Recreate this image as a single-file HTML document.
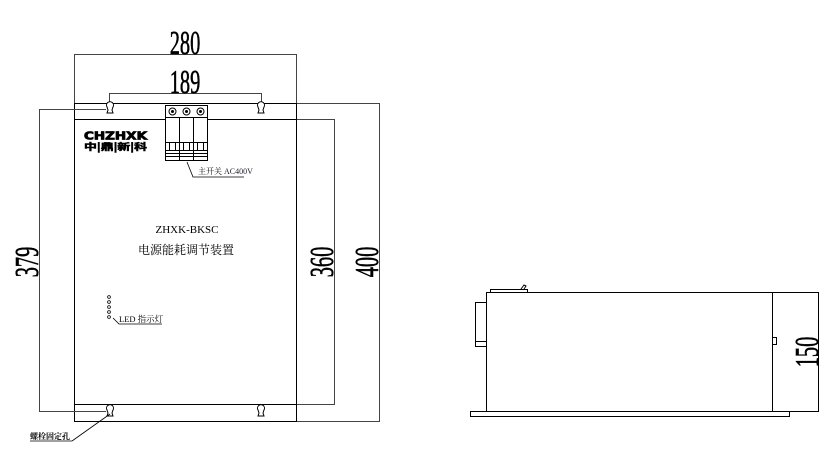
<!DOCTYPE html>
<html><head><meta charset="utf-8"><style>
html,body{margin:0;padding:0;background:#fff;}
svg{display:block;}
.d{font-family:"Liberation Serif","Noto Serif CJK SC",serif;fill:#000;}
</style></head><body>
<svg width="830" height="467" viewBox="0 0 830 467" xmlns="http://www.w3.org/2000/svg">
<g fill="none" stroke="#000" stroke-width="1">
<rect x="74.5" y="103.5" width="222" height="318"/>
<line x1="74" y1="119.5" x2="297" y2="119.5"/>
<line x1="74" y1="404.5" x2="297" y2="404.5"/>
<polyline points="74.5,103 74.5,54.5 296.5,54.5 296.5,103" stroke="#444"/>
<polyline points="109.5,104 109.5,93.5 261.5,93.5 261.5,104" stroke="#444"/>
<polyline points="106,109.5 39.5,109.5 39.5,411.5 106,411.5" stroke="#444"/>
<polyline points="297,119.5 334.5,119.5 334.5,404.5 297,404.5" stroke="#444"/>
<polyline points="297,103.5 379.5,103.5 379.5,421.5 297,421.5" stroke="#444"/>
</g>
<g fill="#fff" stroke="#000" stroke-width="1">
<path d="M107,106 a3.5,3.5 0 1 1 6,0 l-1,3 l1,3 h-6 l1,-3 z" transform="translate(0,1)"/>
<path d="M258,106 a3.5,3.5 0 1 1 6,0 l-1,3 l1,3 h-6 l1,-3 z" transform="translate(0,1)"/>
<path d="M107,410 a3.5,3.5 0 1 1 6,0 l-1,3 l1,3 h-6 l1,-3 z"/>
<path d="M258,410 a3.5,3.5 0 1 1 6,0 l-1,3 l1,3 h-6 l1,-3 z"/>
</g>
<g fill="#fff" stroke="#000" stroke-width="1">
<rect x="165.5" y="105.5" width="42" height="12"/>
<rect x="165.5" y="117.5" width="14" height="43"/>
<rect x="179.5" y="117.5" width="14" height="43"/>
<rect x="193.5" y="117.5" width="14" height="43"/>
<circle cx="172.5" cy="111.5" r="3.5"/><circle cx="186.5" cy="111.5" r="3.5"/><circle cx="200.5" cy="111.5" r="3.5"/>
<line x1="165" y1="142.5" x2="208" y2="142.5"/>
<line x1="165" y1="150.5" x2="208" y2="150.5"/>
<line x1="165" y1="153.5" x2="208" y2="153.5"/>
<line x1="165" y1="156.5" x2="208" y2="156.5"/>
<line x1="169.5" y1="142" x2="169.5" y2="150"/><line x1="175.5" y1="142" x2="175.5" y2="150"/>
<line x1="183.5" y1="142" x2="183.5" y2="150"/><line x1="189.5" y1="142" x2="189.5" y2="150"/>
<line x1="197.5" y1="142" x2="197.5" y2="150"/><line x1="203.5" y1="142" x2="203.5" y2="150"/>
</g>
<g fill="#000"><circle cx="172.5" cy="111.5" r="1.5"/><circle cx="186.5" cy="111.5" r="1.5"/><circle cx="200.5" cy="111.5" r="1.5"/></g>
<polyline points="187,162 193,177 244,177" fill="none" stroke="#000" stroke-width="0.8"/>
<text x="198" y="174" class="d" font-size="8">主开关 <tspan fill="#223">AC400V</tspan></text>
<text x="84" y="139.5" font-family="DejaVu Sans,sans-serif" font-weight="bold" font-size="11" textLength="63" lengthAdjust="spacingAndGlyphs" fill="#000" stroke="#000" stroke-width="0.8">CHZHXK</text>
<text x="84" y="150" font-family="Noto Sans CJK SC,sans-serif" font-weight="bold" font-size="9" textLength="63" lengthAdjust="spacingAndGlyphs" fill="#000" stroke="#000" stroke-width="0.5">中|鼎|新|科</text>
<text x="187" y="233" class="d" font-size="11" text-anchor="middle">ZHXK-BKSC</text>
<text x="186" y="254" class="d" font-size="12" text-anchor="middle">电源能耗调节装置</text>
<g fill="none" stroke="#000" stroke-width="0.8">
<circle cx="109" cy="297" r="1.4"/><circle cx="109" cy="302" r="1.4"/><circle cx="109" cy="307" r="1.4"/><circle cx="109" cy="312" r="1.4"/><circle cx="109" cy="317" r="1.4"/>
<polyline points="113,318 119,324 162,324"/>
<polyline points="72,441 110,414"/>
<line x1="30" y1="441" x2="72" y2="441"/>
</g>
<text x="119" y="322" class="d" font-size="8.5" fill="#124">LED 指示灯</text>
<text x="30" y="439" class="d" font-size="8" font-weight="bold">螺栓固定孔</text>
<g class="d" font-size="34" stroke="#000" stroke-width="0.6">
<text transform="translate(185,54) scale(0.6,1)" text-anchor="middle">280</text>
<text transform="translate(185,93) scale(0.6,1)" text-anchor="middle">189</text>
<text transform="translate(38,262) rotate(-90) scale(0.6,1)" text-anchor="middle">379</text>
<text transform="translate(333,262) rotate(-90) scale(0.6,1)" text-anchor="middle">360</text>
<text transform="translate(378,262) rotate(-90) scale(0.6,1)" text-anchor="middle">400</text>
<text transform="translate(818,352) rotate(-90) scale(0.6,1)" text-anchor="middle">150</text>
</g>
<g fill="none" stroke="#000" stroke-width="1">
<rect x="486.5" y="292.5" width="286" height="119"/>
<rect x="772.5" y="292.5" width="46" height="119"/>
<rect x="470.5" y="411.5" width="319" height="5"/>
<rect x="475.5" y="302.5" width="11" height="44"/>
<line x1="475" y1="341.5" x2="486" y2="341.5"/>
<rect x="490.5" y="289.5" width="37" height="3"/>
<polyline points="521,289 524,285 526,286 524,289"/>
<rect x="772.5" y="337.5" width="4" height="7"/>
</g>
</svg>
</body></html>
